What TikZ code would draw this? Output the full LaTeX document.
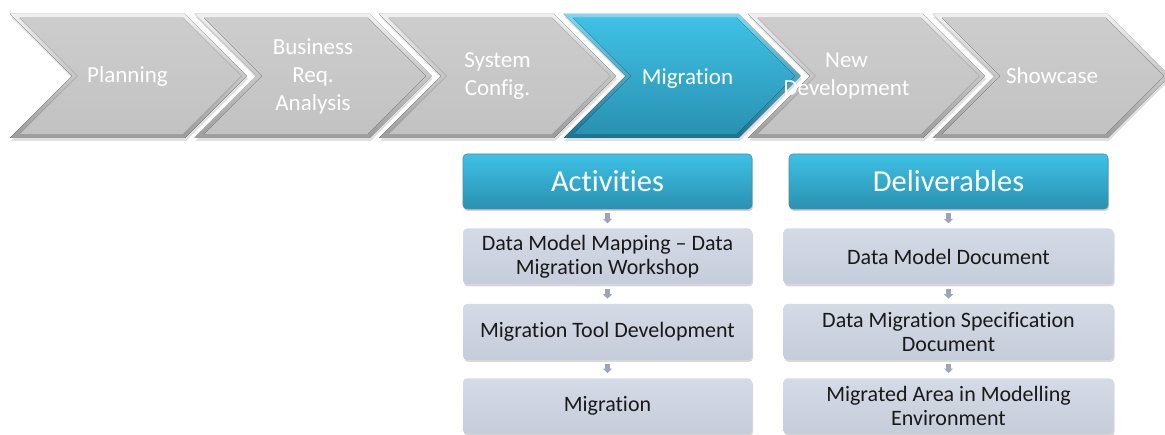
\documentclass[tikz,border=0pt]{standalone}
\usepackage{fontspec}
\setmainfont{Carlito}[Ligatures=NoCommon]
\usetikzlibrary{positioning,arrows.meta,shadows}

\definecolor{rimlight}{HTML}{F0F0F0}
\definecolor{rimdark}{HTML}{9C9C9C}
\definecolor{facetop}{HTML}{CDCDCD}
\definecolor{facebot}{HTML}{C2C2C2}
\definecolor{cyanlight}{HTML}{7FD8F0}
\definecolor{cyandark}{HTML}{1C7390}
\definecolor{cyantop}{HTML}{3EC1E5}
\definecolor{cyanbot}{HTML}{2A91B2}
\definecolor{itemtop}{HTML}{D4DAE6}
\definecolor{itembot}{HTML}{C6CDDA}
\definecolor{arrowgrey}{HTML}{9DA6B8}

\begin{document}
\begin{tikzpicture}[x=1pt,y=1pt]
    \tikzstyle{rim} = [top color=rimlight, bottom color=rimdark,
        drop shadow={shadow xshift=1pt, shadow yshift=-3pt, opacity=.25}]
    \tikzstyle{face} = [top color=facetop, bottom color=facebot]
    \tikzstyle{currim} = [top color=cyanlight, bottom color=cyandark,
        drop shadow={shadow xshift=1pt, shadow yshift=-3pt, opacity=.25}]
    \tikzstyle{curface} = [top color=cyantop, bottom color=cyanbot]
    \tikzstyle{phase} = [text=white, align=center, inner sep=0,
        font=\fontsize{23}{28}\selectfont]
    \tikzstyle{head} = [rounded corners=4pt, top color=cyantop, bottom color=cyanbot,
        draw=cyandark!80, line width=.6pt, minimum height=55, text=white,
        font=\fontsize{30.5}{34}\selectfont,
        drop shadow={shadow xshift=1pt, shadow yshift=-2pt, opacity=.35}]
    \tikzstyle{item} = [rounded corners=4pt, top color=itemtop, bottom color=itembot,
        minimum height=56, align=center, text=black!90, inner sep=2pt,
        font=\fontsize{22}{24}\selectfont,
        drop shadow={shadow xshift=1pt, shadow yshift=-2pt, opacity=.3}]
    \tikzstyle{flow} = [-{Triangle[width=9pt,length=4.5pt]}, line width=4.5pt,
        draw=arrowgrey, shorten <=4pt, shorten >=5pt]
    \useasboundingbox (0,0) rectangle (1165,-435);
    \fill[white] (0,0) rectangle (1165,-435);
        % phase chevrons
        \fill[rim] (10,-14) -- ++(175,0) -- ++(62,-62) -- ++(-62,-62) -- ++(-175,0) -- ++(62,62) -- cycle;
        \fill[face] (19.7,-18) -- ++(163.7,0) -- ++(58,-58) -- ++(-58,-58) -- ++(-163.7,0) -- ++(58,58) -- cycle;
        \fill[rim] (194.5,-14) -- ++(175,0) -- ++(62,-62) -- ++(-62,-62) -- ++(-175,0) -- ++(62,62) -- cycle;
        \fill[face] (204.2,-18) -- ++(163.7,0) -- ++(58,-58) -- ++(-58,-58) -- ++(-163.7,0) -- ++(58,58) -- cycle;
        \fill[rim] (379,-14) -- ++(175,0) -- ++(62,-62) -- ++(-62,-62) -- ++(-175,0) -- ++(62,62) -- cycle;
        \fill[face] (388.7,-18) -- ++(163.7,0) -- ++(58,-58) -- ++(-58,-58) -- ++(-163.7,0) -- ++(58,58) -- cycle;
        \fill[currim] (563.5,-14) -- ++(175,0) -- ++(62,-62) -- ++(-62,-62) -- ++(-175,0) -- ++(62,62) -- cycle;
        \fill[curface] (573.2,-18) -- ++(163.7,0) -- ++(58,-58) -- ++(-58,-58) -- ++(-163.7,0) -- ++(58,58) -- cycle;
        \fill[rim] (748,-14) -- ++(175,0) -- ++(62,-62) -- ++(-62,-62) -- ++(-175,0) -- ++(62,62) -- cycle;
        \fill[face] (757.7,-18) -- ++(163.7,0) -- ++(58,-58) -- ++(-58,-58) -- ++(-163.7,0) -- ++(58,58) -- cycle;
        \fill[rim] (932.5,-14) -- ++(175,0) -- ++(62,-62) -- ++(-62,-62) -- ++(-175,0) -- ++(62,62) -- cycle;
        \fill[face] (942.2,-18) -- ++(163.7,0) -- ++(58,-58) -- ++(-58,-58) -- ++(-163.7,0) -- ++(58,58) -- cycle;
        % phase labels
        \node[phase] (plan) at (127.5,-76) {Planning};
        \node[phase,xshift=185.5] (busreq) at (plan) {Business\\Req.\\Analysis};
        \node[phase,xshift=184.5] (sysconf) at (busreq) {System\\Config.};
        \node[phase,xshift=190,yshift=-3] (migr) at (sysconf) {Migration};
        \node[phase,xshift=159,yshift=3] (newdev) at (migr) {New\\Development};
        \node[phase,xshift=205.5] (show) at (newdev) {Showcase};
        % activities
        \node[head,minimum width=289] (act) at (607.5,-181.5) {Activities};
        \node[item,minimum width=289,below=19 of act] (act1) {Data Model Mapping -- Data\\Migration Workshop};
        \node[item,minimum width=289,below=19 of act1] (act2) {Migration Tool Development};
        \node[item,minimum width=289,below=18 of act2] (act3) {Migration};
        \draw[flow] (act) -- (act1);
        \draw[flow] (act1) -- (act2);
        \draw[flow] (act2) -- (act3);
        % deliverables
        \node[head,minimum width=319] (deliv) at (948.5,-181.5) {Deliverables};
        \node[item,minimum width=330,below=19 of deliv] (del1) {Data Model Document};
        \node[item,minimum width=330,below=19 of del1] (del2) {Data Migration Specification\\Document};
        \node[item,minimum width=330,below=18 of del2] (del3) {Migrated Area in Modelling\\Environment};
        \draw[flow] (deliv) -- (del1);
        \draw[flow] (del1) -- (del2);
        \draw[flow] (del2) -- (del3);
    \end{tikzpicture}
\end{document}
